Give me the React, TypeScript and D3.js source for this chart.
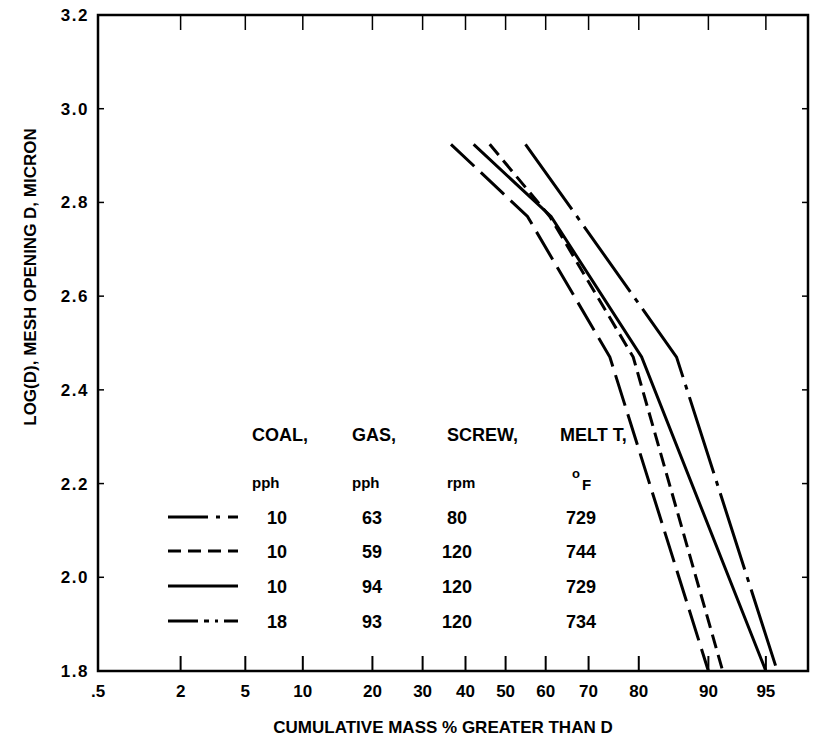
import React from "react";
import * as d3 from "d3";

// sieve levels, log10 of mesh opening (micron)
const logD = [2.924, 2.77, 2.47, 1.8];

// cumulative mass % greater than D, one array per run
const run1 = [55, 67.4, 86, 95.7]; // dash-dot
const run2 = [46, 61, 79, 91.5]; // short dash
const run3 = [42, 61.3, 80.5, 95]; // solid
const run4 = [36.5, 55.5, 74.5, 90]; // long dash

const coal = ["10", "10", "10", "18"];
const gas = ["63", "59", "94", "93"];
const screw = ["80", "120", "120", "120"];
const melt = ["729", "744", "729", "734"];

const xTicks = [0.5, 2, 5, 10, 20, 30, 40, 50, 60, 70, 80, 90, 95];
const xTickLabels = [".5", "2", "5", "10", "20", "30", "40", "50", "60", "70", "80", "90", "95"];
const yTicks = [1.8, 2.0, 2.2, 2.4, 2.6, 2.8, 3.0, 3.2];

// inverse normal cdf (Acklam)
function probit(p: number) {
  const a = [-39.69683028665376, 220.9460984245205, -275.9285104469687, 138.357751867269, -30.66479806614716, 2.506628277459239];
  const b = [-54.47609879822406, 161.5858368580409, -155.6989798598866, 66.80131188771972, -13.28068155288572];
  const c = [-0.007784894002430293, -0.3223964580411365, -2.400758277161838, -2.549732539343734, 4.374664141464968, 2.938163982698783];
  const d = [0.007784695709041462, 0.3224671290700398, 2.445134137142996, 3.754408661907416];
  const lo = 0.02425;
  if (p < lo) {
    const q = Math.sqrt(-2 * Math.log(p));
    return (((((c[0] * q + c[1]) * q + c[2]) * q + c[3]) * q + c[4]) * q + c[5]) /
      ((((d[0] * q + d[1]) * q + d[2]) * q + d[3]) * q + 1);
  }
  if (p <= 1 - lo) {
    const q = p - 0.5;
    const r = q * q;
    return ((((((a[0] * r + a[1]) * r + a[2]) * r + a[3]) * r + a[4]) * r + a[5]) * q) /
      (((((b[0] * r + b[1]) * r + b[2]) * r + b[3]) * r + b[4]) * r + 1);
  }
  const q = Math.sqrt(-2 * Math.log(1 - p));
  return -(((((c[0] * q + c[1]) * q + c[2]) * q + c[3]) * q + c[4]) * q + c[5]) /
    ((((d[0] * q + d[1]) * q + d[2]) * q + d[3]) * q + 1);
}

const W = 834;
const H = 741;
const left = 98;
const right = 808;
const top = 15;
const bottom = 671;

const font = "'Liberation Sans', Arial, sans-serif";

export default function App() {
  const zScale = d3
    .scaleLinear()
    .domain([probit(0.005), probit(0.972)])
    .range([left, right]);
  const x = (pct: number) => zScale(probit(pct / 100));
  const y = d3.scaleLinear().domain([1.8, 3.2]).range([bottom, top]);

  const line = d3
    .line<[number, number]>()
    .x((d) => x(d[0]))
    .y((d) => y(d[1]));

  const runs = [
    { vals: run1, dash: "80,8,5,8", legendDash: "40,8,4,8" },
    { vals: run2, dash: "14,7", legendDash: "13,7" },
    { vals: run3, dash: "none", legendDash: "none" },
    { vals: run4, dash: "32,9", legendDash: "30,6,5,6,3,6" },
  ];

  const rowY = [517, 551, 586, 621];

  return (
    <svg width={W} height={H} style={{ position: "absolute", left: 0, top: 0, background: "#fff" }} fontFamily={font} fontWeight="bold">
      {/* frame */}
      <rect x={left} y={top} width={right - left} height={bottom - top} fill="none" stroke="#000" strokeWidth={2.5} />

      {/* x ticks */}
      {xTicks.map((t, i) => (
        <g key={"x" + i}>
          {i > 0 && <line x1={x(t)} x2={x(t)} y1={bottom} y2={bottom - 15} stroke="#000" strokeWidth={2} />}
          {i > 0 && <line x1={x(t)} x2={x(t)} y1={top} y2={top + 15} stroke="#000" strokeWidth={1.5} />}
          <text x={x(t)} y={697} textAnchor="middle" fontSize={17}>
            {xTickLabels[i]}
          </text>
        </g>
      ))}

      {/* y ticks */}
      {yTicks.map((t, i) => (
        <g key={"y" + i}>
          {i > 0 && i < yTicks.length - 1 && (
            <>
              <line x1={left} x2={left + 6} y1={y(t)} y2={y(t)} stroke="#000" strokeWidth={1.5} />
              <line x1={right} x2={right - 6} y1={y(t)} y2={y(t)} stroke="#000" strokeWidth={1.5} />
            </>
          )}
          <text x={left - 9} y={y(t) + 6} textAnchor="end" fontSize={17} letterSpacing={1.5}>
            {t.toFixed(1)}
          </text>
        </g>
      ))}

      {/* axis titles */}
      <text x={443} y={733} textAnchor="middle" fontSize={17}>
        CUMULATIVE MASS % GREATER THAN D
      </text>
      <text transform={`translate(36,${277}) rotate(-90)`} textAnchor="middle" fontSize={17}>
        LOG(D), MESH OPENING D, MICRON
      </text>

      {/* data */}
      {runs.map((r, i) => (
        <path
          key={"r" + i}
          d={line(r.vals.map((v, j) => [v, logD[j]] as [number, number])) || ""}
          fill="none"
          stroke="#000"
          strokeWidth={3}
          strokeDasharray={r.dash}
        />
      ))}

      {/* legend table */}
      <g fontSize={18}>
        <text x={252} y={441}>COAL,</text>
        <text x={352} y={441}>GAS,</text>
        <text x={447} y={441}>SCREW,</text>
        <text x={560} y={441}>MELT T,</text>
      </g>
      <g fontSize={15}>
        <text x={252} y={488}>pph</text>
        <text x={352} y={488}>pph</text>
        <text x={447} y={488}>rpm</text>
        <text x={572} y={478} fontSize={13}>o</text>
        <text x={582} y={490}>F</text>
      </g>
      {runs.map((r, i) => (
        <g key={"l" + i} fontSize={18}>
          <line x1={168} x2={238} y1={rowY[i]} y2={rowY[i]} stroke="#000" strokeWidth={3} strokeDasharray={r.legendDash} />
          <text x={277} y={rowY[i] + 7} textAnchor="middle">{coal[i]}</text>
          <text x={372} y={rowY[i] + 7} textAnchor="middle">{gas[i]}</text>
          <text x={457} y={rowY[i] + 7} textAnchor="middle">{screw[i]}</text>
          <text x={581} y={rowY[i] + 7} textAnchor="middle">{melt[i]}</text>
        </g>
      ))}
    </svg>
  );
}
